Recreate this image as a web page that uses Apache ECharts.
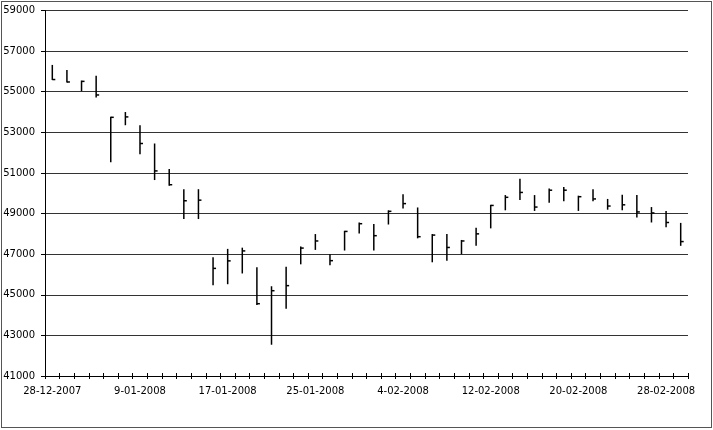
<!DOCTYPE html>
<html>
<head>
<meta charset="utf-8">
<script src="https://cdn.jsdelivr.net/npm/echarts@6/dist/echarts.min.js"></script>
<style>
html,body{margin:0;padding:0;background:#fff;}
#chart{position:absolute;left:1px;top:1px;width:709px;height:425px;border:1px solid #555;}
</style>
</head>
<body>
<div id="chart"></div>
<script>
var dates = ['28-12-2007','2-01-2008','3-01-2008','4-01-2008','7-01-2008','8-01-2008','9-01-2008','10-01-2008','11-01-2008','14-01-2008','15-01-2008','16-01-2008','17-01-2008','18-01-2008','21-01-2008','22-01-2008','23-01-2008','24-01-2008','25-01-2008','28-01-2008','29-01-2008','30-01-2008','31-01-2008','1-02-2008','4-02-2008','5-02-2008','6-02-2008','7-02-2008','8-02-2008','11-02-2008','12-02-2008','13-02-2008','14-02-2008','15-02-2008','18-02-2008','19-02-2008','20-02-2008','21-02-2008','22-02-2008','25-02-2008','26-02-2008','27-02-2008','28-02-2008','29-02-2008'];
var highs = [56320,56070,55550,55790,53770,54000,53350,52450,51200,50200,50200,46850,47260,47320,46350,45420,46380,47380,47990,47000,48150,48560,48480,49160,49950,49300,47990,47990,47700,48300,49430,49910,50710,49910,50230,50310,49880,50200,49720,49930,49910,49320,49130,48540];
var lows = [55580,55460,55030,54720,51530,53350,51920,50650,50370,48730,48730,45470,45520,46050,44500,42540,44310,46500,47210,46450,47180,48020,47180,48460,49250,47780,46600,46670,47000,47410,48270,49160,49670,49130,49530,49610,49130,49610,49190,49160,48800,48560,48320,47410];
var closes = [55600,55480,55510,54840,53740,53760,52450,51100,50420,49630,49660,46300,46670,47160,44560,45200,45450,47300,47650,46680,48120,48500,47910,49110,49490,47860,47940,47330,47650,48000,49400,49800,50040,49320,50150,50150,49830,49720,49370,49430,49080,49030,48560,47620];
var yTicks = [41000,43000,45000,47000,49000,51000,53000,55000,57000,59000];

var data = dates.map(function(d, i){ return [i, highs[i], lows[i], closes[i]]; });
var font = 'DejaVu Sans';
var chart = echarts.init(document.getElementById('chart'));
chart.setOption({
  animation: false,
  backgroundColor: '#fff',
  grid: {left: 43, right: 23, top: 8.5, bottom: 51, containLabel: false, outerBoundsMode: 'none'},
  xAxis: [{
    type: 'category', data: dates, boundaryGap: true,
    axisLine: {lineStyle: {color: '#000', width: 1}},
    axisTick: {show: true, interval: 0, length: 3, lineStyle: {color: '#000'}},
    axisLabel: {interval: 5, margin: 10, color: '#000', fontFamily: font, fontSize: 10},
    splitLine: {show: false}
  }, {
    type: 'category', data: dates, boundaryGap: true, position: 'bottom',
    axisLine: {show: false},
    axisTick: {show: true, inside: true, interval: 0, length: 3, lineStyle: {color: '#000'}},
    axisLabel: {show: false},
    splitLine: {show: false}
  }],
  yAxis: {
    type: 'value', min: yTicks[0], max: yTicks[yTicks.length-1],
    axisLine: {show: true, lineStyle: {color: '#000', width: 1}},
    axisTick: {show: true, length: 4, customValues: yTicks, lineStyle: {color: '#000'}},
    axisLabel: {customValues: yTicks, margin: 10, color: '#000', fontFamily: font, fontSize: 10,
      formatter: function(v){ return String(v); }},
    splitLine: {show: true, lineStyle: {color: '#333', width: 1.2}}
  },
  series: [{
    type: 'custom',
    xAxisIndex: 0,
    encode: {x: 0, y: [1, 2, 3]},
    data: data,
    renderItem: function(params, api){
      var x = api.value(0);
      var pH = api.coord([x, api.value(1)]);
      var pL = api.coord([x, api.value(2)]);
      var pC = api.coord([x, api.value(3)]);
      return {type: 'group', children: [
        {type: 'line', shape: {x1: pH[0], y1: pH[1], x2: pL[0], y2: pL[1]}, style: {stroke: '#000', lineWidth: 1.5}},
        {type: 'line', shape: {x1: pC[0], y1: pC[1], x2: pC[0] + 3, y2: pC[1]}, style: {stroke: '#000', lineWidth: 1.5}}
      ]};
    }
  }]
});
</script>
</body>
</html>
